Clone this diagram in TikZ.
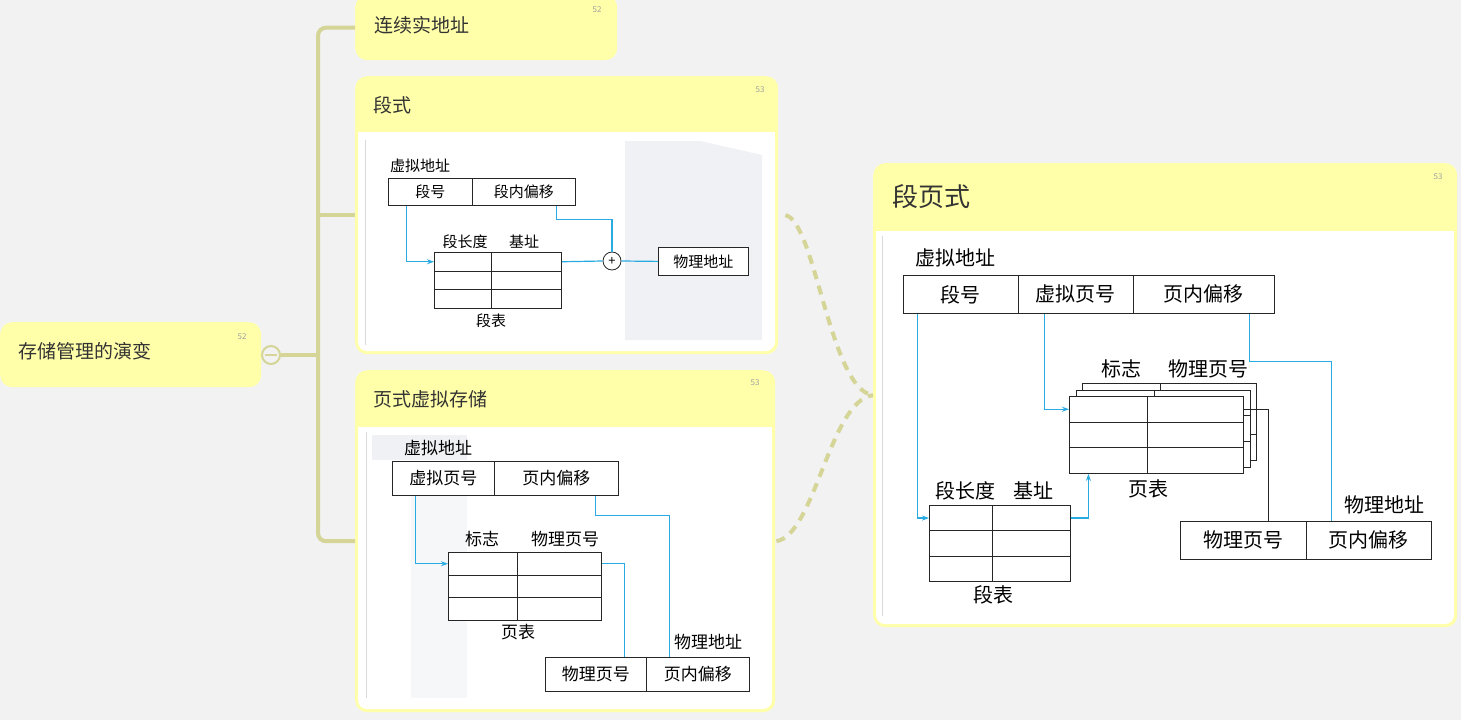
\documentclass[tikz,border=0pt]{standalone}
\usepackage{fontspec}
\setmainfont{Noto Sans CJK SC}
\usepackage{tikz}
\usetikzlibrary{arrows.meta}

\definecolor{bgc}{HTML}{F2F2F2}
\definecolor{cardy}{HTML}{FFFFAA}
\definecolor{branchc}{HTML}{D4D596}
\definecolor{linkc}{HTML}{29AAE1}
\definecolor{numc}{HTML}{A0A0A0}
\definecolor{titlec}{HTML}{333333}
\definecolor{shadec}{HTML}{F0F1F5}
\definecolor{shadelt}{HTML}{F6F7F9}

\tikzset{
    card/.style={fill=cardy, rounded corners=12pt, anchor=north west, inner sep=0pt},
    title/.style={anchor=west, text=titlec, inner sep=0pt, font=\fontsize{19}{19}\selectfont},
    num/.style={text=numc, inner sep=0pt, font=\fontsize{8}{8}\selectfont},
    branch/.style={draw=branchc, line width=4pt},
    link/.style={draw=linkc, line width=1.2pt},
    tip/.style={-{Stealth[length=7pt,width=5pt]}},
    box/.style={draw=black!85, line width=0.8pt, fill=white, anchor=north west, inner sep=0pt},
    sdbox/.style={box, font=\fontsize{15}{15}\selectfont},
    pgbox/.style={box, font=\fontsize{17}{17}\selectfont},
    spbox/.style={box, font=\fontsize{20}{20}\selectfont},
    sdtxt/.style={inner sep=0pt, font=\fontsize{15}{15}\selectfont},
    pgtxt/.style={inner sep=0pt, font=\fontsize{17}{17}\selectfont},
    sptxt/.style={inner sep=0pt, font=\fontsize{20}{20}\selectfont}
}

\begin{document}
\begin{tikzpicture}[x=1pt, y=-1pt]
    \useasboundingbox (0,0) rectangle (1461,720);
    \clip (0,0) rectangle (1461,720);
    \fill[bgc] (0,0) rectangle (1461,720);

    \node[card, minimum width=261, minimum height=65] (root) at (0,322) {};
    \node[title] at (18,351) {存储管理的演变};
    \node[num] at (242,337) {52};
    \node[circle, draw=branchc, line width=2pt, fill=bgc, minimum size=18, inner sep=0pt] (coll) at (271,355) {};
    \draw[branchc, line width=1.5pt] ([xshift=-6]coll.center) -- ([xshift=6]coll.center);

    \node[card, minimum width=262, minimum height=65] (t1) at (355,-5) {};
    \node[title] at (374,25) {连续实地址};
    \node[num] at (597,10) {52};

    \node[card, minimum width=423, minimum height=278] (t2) at (355,76) {};
    \fill[white, rounded corners=9pt] (358,132) rectangle (775,351);
    \fill[white] (358,132) rectangle (775,200);
    \fill[shadec] (625,141) -- (700,141) -- (762,155) -- (762,340) -- (625,340) -- cycle;
    \draw[black!15, line width=1pt] (365,140) -- (365,345);
    \node[title] at (373,105) {段式};
    \node[num] at (760,90) {53};

    \node[card, minimum width=420, minimum height=342] (t3) at (355,370) {};
    \fill[white, rounded corners=9pt] (358,427) rectangle (772,709);
    \fill[white] (358,427) rectangle (772,500);
    \fill[shadec] (372,435) rectangle (467,460);
    \fill[shadelt] (411,495) rectangle (467,698);
    \draw[black!15, line width=1pt] (366,432) -- (366,698);
    \node[title] at (373,399) {页式虚拟存储};
    \node[num] at (755,383) {53};

    \node[card, minimum width=584, minimum height=464] (t4) at (873,163) {};
    \fill[white, rounded corners=9pt] (876,231) rectangle (1454,624);
    \fill[white] (876,231) rectangle (1454,300);
    \draw[black!15, line width=1pt] (882,236) -- (882,616);
    \node[title, font=\fontsize{26}{26}\selectfont] at (892,197) {段页式};
    \node[num] at (1438,177) {53};

    \coordinate (trunk) at (318,355);
    \draw[branch, rounded corners=8pt] (t1.west) -| (trunk) |- (t3.west);
    \draw[branch] (trunk |- t2.west) -- (t2.west);
    \draw[branch] (coll.east) -- (trunk);
    \draw[branch, dash pattern=on 9pt off 7pt] ([xshift=7]t2.east) .. controls (815,220) and (830,390) .. (t4.west);
    \draw[branch, dash pattern=on 9pt off 7pt] ([xshift=1]t3.east) .. controls (815,535) and (830,400) .. (t4.west);

    % segment
    \node[sdtxt] at (420,166) {虚拟地址};
    \node[sdbox, minimum width=84, minimum height=27] (sno) at (388,178) {段号};
    \node[sdbox, minimum width=103, minimum height=27] (soff) at (472,178) {段内偏移};
    \foreach \r in {0,1,2} {
        \node[sdbox, minimum width=57, minimum height=18.7] (sl-\r) at (434,{252+18.7*\r}) {};
        \node[sdbox, minimum width=70, minimum height=18.7] (sb-\r) at (491,{252+18.7*\r}) {};
    }
    \node[sdtxt] at (465,242) {段长度};
    \node[sdtxt] at (524,242) {基址};
    \node[sdtxt] at (491,321) {段表};
    \node[circle, draw=black!85, line width=0.8pt, fill=white, minimum size=18, inner sep=0pt, font=\fontsize{13}{13}\selectfont] (plus) at (612,261) {+};
    \node[sdbox, minimum width=90, minimum height=28] (spa) at (658,247) {物理地址};
    \draw[link, tip] ([xshift=-24]sno.south) |- (sl-0.west);
    \draw[link] ([xshift=32.5]soff.south) -- ++(0,14) -| (plus.north);
    \draw[link] (sb-0.east) -- (plus.west);
    \draw[link] (plus.east) -- (spa.west);

    % paging
    \node[pgtxt] at (438,448) {虚拟地址};
    \node[pgbox, minimum width=102, minimum height=34] (vpn) at (392,461) {虚拟页号};
    \node[pgbox, minimum width=124, minimum height=34] (voff) at (494,461) {页内偏移};
    \foreach \r in {0,1,2} {
        \node[pgbox, minimum width=69, minimum height=22.7] (pf-\r) at (448,{552+22.7*\r}) {};
        \node[pgbox, minimum width=84, minimum height=22.7] (pn-\r) at (517,{552+22.7*\r}) {};
    }
    \node[pgtxt] at (482,539) {标志};
    \node[pgtxt] at (565,539) {物理页号};
    \node[pgtxt] at (518,632) {页表};
    \node[pgbox, minimum width=101, minimum height=34] (pfn) at (545,657) {物理页号};
    \node[pgbox, minimum width=103, minimum height=34] (poff) at (646,657) {页内偏移};
    \node[pgtxt] at (708,642) {物理地址};
    \draw[link, tip] ([xshift=-28]vpn.south) |- (pf-0.west);
    \draw[link] ([xshift=39]voff.south) -- ++(0,20) -| ([xshift=-28.5]poff.north);
    \draw[link] (pn-0.east) -| ([xshift=28.5]pfn.north);

    % segmented paging
    \node[sptxt] at (955,258) {虚拟地址};
    \node[spbox, minimum width=115, minimum height=38] (gsn) at (903,275) {段号};
    \node[spbox, minimum width=115, minimum height=38] (gvpn) at (1018,275) {虚拟页号};
    \node[spbox, minimum width=141, minimum height=38] (goff) at (1133,275) {页内偏移};
    \foreach \k in {2,1,0} {
        \foreach \r in {0,1,2} {
            \node[spbox, minimum width=78, minimum height=25.7] (pt\k a-\r) at ({1069+6.5*\k},{396-6.5*\k+25.7*\r}) {};
            \node[spbox, minimum width=96, minimum height=25.7] (pt\k b-\r) at ({1147+6.5*\k},{396-6.5*\k+25.7*\r}) {};
        }
    }
    \node[sptxt] at (1121,369) {标志};
    \node[sptxt] at (1208,369) {物理页号};
    \node[sptxt] at (1148,489) {页表};
    \foreach \r in {0,1,2} {
        \node[spbox, minimum width=63, minimum height=25.3] (gs-\r) at (929,{505+25.3*\r}) {};
        \node[spbox, minimum width=78, minimum height=25.3] (gb-\r) at (992,{505+25.3*\r}) {};
    }
    \node[sptxt] at (965,491) {段长度};
    \node[sptxt] at (1033,491) {基址};
    \node[sptxt] at (993,595) {段表};
    \node[spbox, minimum width=126, minimum height=38] (gpfn) at (1180,521) {物理页号};
    \node[spbox, minimum width=125, minimum height=38] (gpo) at (1306,521) {页内偏移};
    \node[sptxt] at (1384,505) {物理地址};
    \draw[link, tip] ([xshift=-43.5]gsn.south) |- (gs-0.west);
    \draw[link, tip] ([xshift=-31.5]gvpn.south) |- (pt0a-0.west);
    \draw[link] ([xshift=45.5]goff.south) -- ++(0,48) -| ([xshift=-37.5]gpo.north);
    \draw[link, tip] (gb-0.east) -| ([xshift=-20]pt0a-2.south);
    \draw[draw=black!85, line width=0.8pt] (pt0b-0.east) -| ([xshift=25]gpfn.north);
\end{tikzpicture}
\end{document}
